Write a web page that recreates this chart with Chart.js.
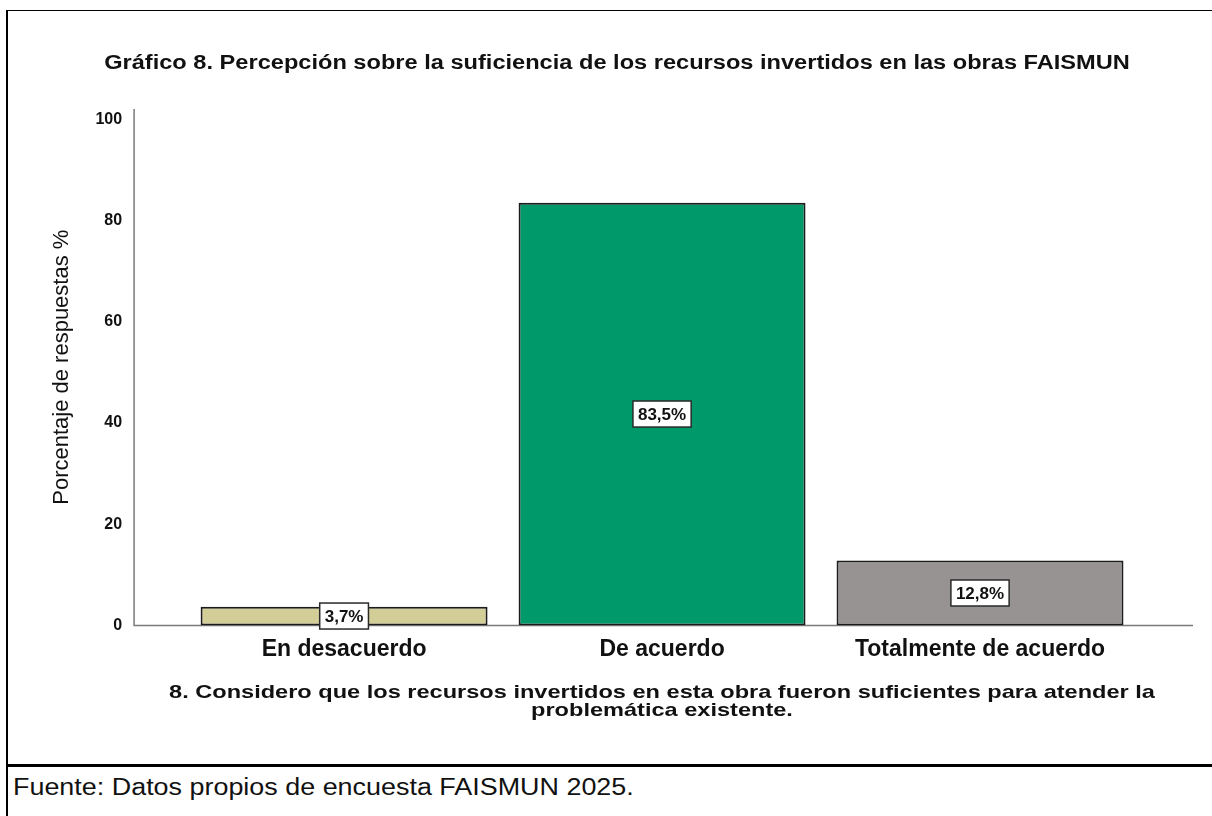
<!DOCTYPE html>
<html>
<head>
<meta charset="utf-8">
<script src="https://cdn.jsdelivr.net/npm/chart.js@4/dist/chart.umd.min.js"></script>
<style>
  body { margin: 0; background: #fff; font-family: "Liberation Sans", Arial, sans-serif; }
  #wrap { position: relative; width: 1212px; height: 816px; overflow: hidden; }
  #chart { position: absolute; left: 0; top: 0; }
  .line { position: absolute; background: #000; }
  #title { position: absolute; left: 0; width: 1234px; top: 51px; line-height: 22px;
           text-align: center; font-size: 20px; font-weight: bold; color: #111;
           transform: scaleX(1.18); transform-origin: 617px 50%; }
  #xtitle { position: absolute; left: 0; width: 1324px; top: 683px; line-height: 18px;
            text-align: center; font-size: 19px; font-weight: bold; color: #111;
            transform: scaleX(1.24); transform-origin: 662px 50%; }
  #source { position: absolute; left: 13px; top: 774px; line-height: 26px; font-size: 23px; color: #111;
            transform: scaleX(1.17); transform-origin: 0 50%; white-space: nowrap; }
</style>
</head>
<body>
<div id="wrap">
  <canvas id="chart" width="1212" height="766"></canvas>
  <div class="line" style="left:6px;top:10px;width:1206px;height:1px"></div>
  <div class="line" style="left:6px;top:10px;width:2px;height:806px"></div>
  <div class="line" style="left:6px;top:764px;width:1206px;height:3px"></div>
  <div id="title">Gráfico 8. Percepción sobre la suficiencia de los recursos invertidos en las obras FAISMUN</div>
  <div id="xtitle"></div>
  <div id="source">Fuente: Datos propios de encuesta FAISMUN 2025.</div>
</div>
<script>
const categories = ['En desacuerdo', 'De acuerdo', 'Totalmente de acuerdo'];
const percentages = [3.7, 83.5, 12.8];
const barColors = ['#d3ce97', '#00996a', '#989393'];
const yTickValues = [0, 20, 40, 60, 80, 100];
const xTitleLines = [
  '8. Considero que los recursos invertidos en esta obra fueron suficientes para atender la',
  'problemática existente.',
];

const FONT = '"Liberation Sans", Arial, sans-serif';

document.getElementById('xtitle').innerHTML = xTitleLines.join('<br>');

// axis lines reach past the category band, like the original SPSS frame
const axisLines = {
  id: 'axisLines',
  beforeDatasetsDraw(chart) {
    const { ctx, chartArea } = chart;
    const x0 = chartArea.left - 51;
    const x1 = chartArea.right + 54;
    ctx.save();
    ctx.strokeStyle = '#7a7a7a';
    ctx.lineWidth = 1.5;
    ctx.beginPath();
    ctx.moveTo(x0, chartArea.top);
    ctx.lineTo(x0, chartArea.bottom);
    ctx.lineTo(x1, chartArea.bottom);
    ctx.stroke();
    ctx.restore();
  },
};

const boxLabels = {
  id: 'boxLabels',
  afterDatasetsDraw(chart) {
    const { ctx } = chart;
    const meta = chart.getDatasetMeta(0);
    ctx.save();
    ctx.font = `bold 17px ${FONT}`;
    ctx.textAlign = 'center';
    ctx.textBaseline = 'middle';
    meta.data.forEach((bar, i) => {
      const { x, y, base } = bar.getProps(['x', 'y', 'base'], true);
      const cy = (y + base) / 2;
      const text = percentages[i].toFixed(1).replace('.', ',') + '%';
      const w = ctx.measureText(text).width + 10;
      const h = 26;
      ctx.fillStyle = '#fff';
      ctx.fillRect(x - w / 2, cy - h / 2, w, h);
      ctx.strokeStyle = '#2a2a2a';
      ctx.lineWidth = 1.5;
      ctx.strokeRect(x - w / 2, cy - h / 2, w, h);
      ctx.fillStyle = '#111';
      ctx.fillText(text, x, cy + 1);
    });
    ctx.restore();
  },
};

new Chart(document.getElementById('chart'), {
  type: 'bar',
  data: {
    labels: categories,
    datasets: [{
      data: percentages,
      backgroundColor: barColors,
      borderColor: '#1c1c1c',
      borderWidth: 2,
      borderSkipped: false,
      categoryPercentage: 1,
      barPercentage: 0.9025,
    }],
  },
  options: {
    responsive: false,
    animation: false,
    layout: { padding: { left: 20, right: 73, top: 109, bottom: 103 } },
    plugins: { legend: { display: false }, tooltip: { enabled: false }, title: { display: false } },
    scales: {
      x: {
        grid: { display: false, tickLength: 10 },
        border: { display: false },
        ticks: { color: '#111', padding: 0, font: { family: FONT, size: 23, weight: 'bold' } },
      },
      y: {
        min: 0,
        max: 102,
        grid: { display: false, tickLength: 63 },
        border: { display: false },
        afterBuildTicks: (axis) => { axis.ticks = yTickValues.map((v) => ({ value: v })); },
        ticks: { color: '#111', padding: 0, font: { family: FONT, size: 16, weight: 'bold' } },
        title: {
          display: true,
          text: 'Porcentaje de respuestas %',
          color: '#111',
          padding: { top: 29, bottom: 20 },
          font: { family: FONT, size: 22 },
        },
      },
    },
  },
  plugins: [axisLines, boxLabels],
});
</script>
</body>
</html>
